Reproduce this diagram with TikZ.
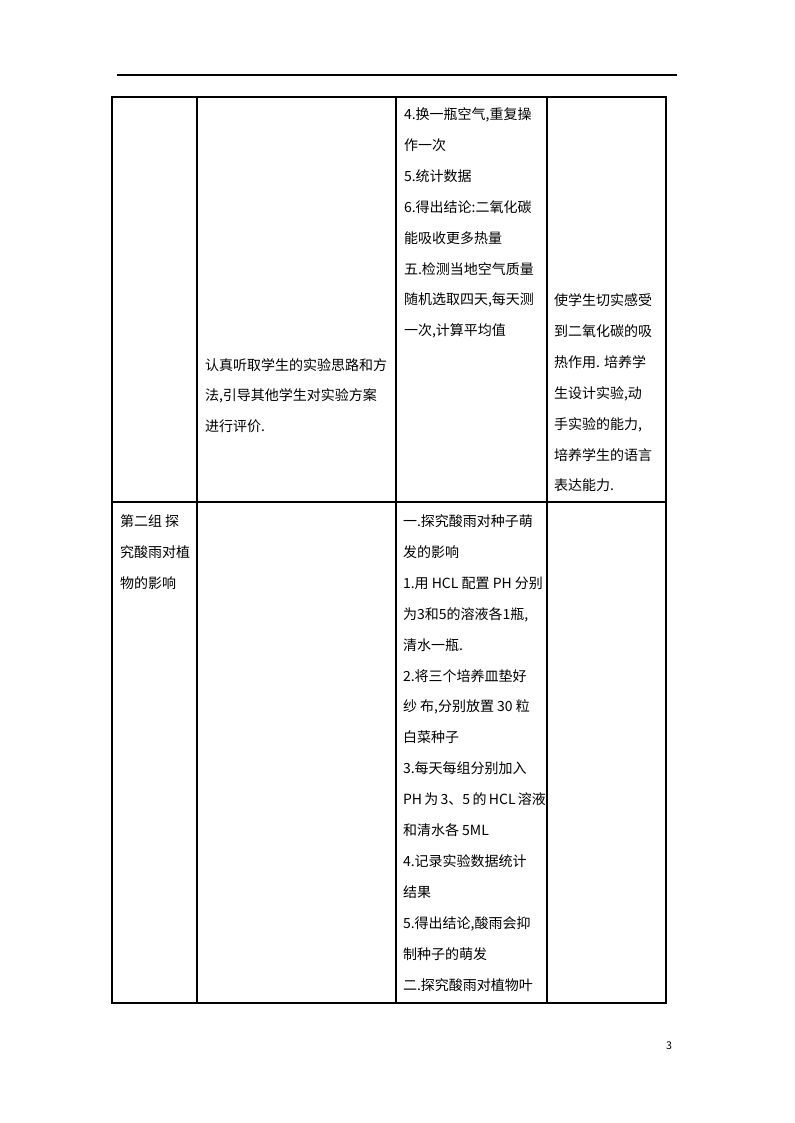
\documentclass[tikz,border=0pt]{standalone}
\usepackage{fontspec}
\setmainfont{Noto Sans CJK SC}
\begin{document}
\begin{tikzpicture}[x=0.75pt,y=-0.75pt,
  txt/.style={inner sep=0pt,outer sep=0pt,font=\fontsize{10.5pt}{12pt}\selectfont,text=black},
  rule/.style={line width=0.8pt,draw=black}]
\useasboundingbox (0,0) rectangle (794,1123);
\newcommand\celllines[4]{%
  \foreach \t [count=\i] in {#4} {%
    \node[txt,anchor=base west] (#1-\i) at (#2,{#3+6.5+(\i-1)*30.9}) {\t};}}
% header rule
\draw[rule] (117,75) -- (677,75);
% table
\draw[rule] (112,97) rectangle (666,1003);
\draw[rule] (197,97) -- (197,1003);
\draw[rule] (396,97) -- (396,1003);
\draw[rule] (547,97) -- (547,1003);
\draw[rule] (112,502) -- (666,502);
% row 1
\celllines{ra}{404}{113}{{4.换一瓶空气,重复操},{作一次},{5.统计数据},{6.得出结论:二氧化碳},{能吸收更多热量},{五.检测当地空气质量},{随机选取四天,每天测},{一次,计算平均值}}
\celllines{rb}{205}{363.5}{{认真听取学生的实验思路和方},{法,引导其他学生对实验方案},{进行评价.}}
\celllines{rc}{554}{299}{{使学生切实感受},{到二氧化碳的吸},{热作用. 培养学},{生设计实验,动},{手实验的能力,},{培养学生的语言},{表达能力.}}
% row 2
\celllines{rd}{120}{520}{{第二组 探},{究酸雨对植},{物的影响}}
\celllines{re}{403}{520}{{一.探究酸雨对种子萌},{发的影响},{1.用 HCL 配置 PH 分别},{为3和5的溶液各1瓶,},{清水一瓶.},{2.将三个培养皿垫好},{纱 布,分别放置 30 粒},{白菜种子},{3.每天每组分别加入},{PH\,为\,3、5\,的\,HCL\,溶液},{和清水各 5ML},{4.记录实验数据统计},{结果},{5.得出结论,酸雨会抑},{制种子的萌发},{二.探究酸雨对植物叶}}
% page number
\node[inner sep=0pt,font=\fontsize{8pt}{9pt}\selectfont] (pg) at (669,1046) {3};
\end{tikzpicture}
\end{document}
